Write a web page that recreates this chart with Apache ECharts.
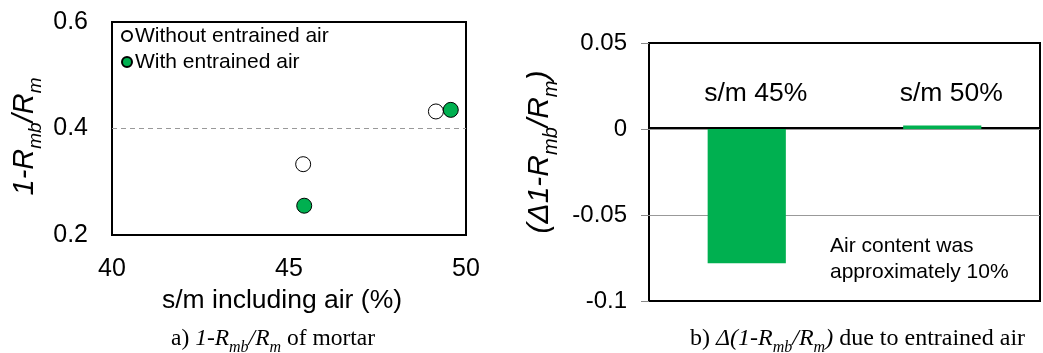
<!DOCTYPE html>
<html>
<head>
<meta charset="utf-8">
<script src="https://cdn.jsdelivr.net/npm/echarts@6/dist/echarts.min.js"></script>
<style>
  html, body { margin: 0; padding: 0; background: #fff; }
  #chart { width: 1043px; height: 353px; }
</style>
</head>
<body>
<div id="chart"></div>
<script>
// (a) 1-Rmb/Rm of mortar against s/m including air
const smWithout = [45.40, 49.15];
const ratioWithout = [0.333, 0.432];
const smWith = [45.43, 49.57];
const ratioWith = [0.255, 0.435];
const xTicksA = { min: 40, max: 50, step: 5 };
const yTicksA = { min: 0.2, max: 0.6, step: 0.2 };

// (b) change of 1-Rmb/Rm due to entrained air
const deltaCategories = ['s/m 45%', 's/m 50%'];
const deltaValues = [-0.078, 0.002];
const yTicksB = { min: -0.1, max: 0.05, step: 0.05 };

const sans = 'Liberation Sans, Arial, sans-serif';
const serif = 'Liberation Serif, Times New Roman, serif';
const green = '#00B050';

function pairs(xs, ys) { return xs.map((x, i) => [x, ys[i]]); }

// rich-text styles for italic names with subscripts
function richName(size, family) {
  const sub = Math.round(size * 0.66);
  const lh = Math.round(size * 1.4);
  return {
    n: { fontSize: size, fontFamily: family, color: '#000', lineHeight: lh, verticalAlign: 'middle' },
    i: { fontSize: size, fontFamily: family, fontStyle: 'italic', color: '#000', lineHeight: lh, verticalAlign: 'middle' },
    s: { fontSize: sub, fontFamily: family, fontStyle: 'italic', color: '#000', lineHeight: sub, verticalAlign: 'bottom' }
  };
}

const chart = echarts.init(document.getElementById('chart'), null, { renderer: 'canvas' });

chart.setOption({
  animation: false,
  backgroundColor: '#fff',
  grid: [
    { left: 112, top: 22, width: 354, height: 213, show: true, borderColor: '#000', borderWidth: 2, backgroundColor: 'transparent' },
    { left: 649, top: 43, width: 391, height: 258, show: true, borderColor: '#000', borderWidth: 2, backgroundColor: 'transparent' }
  ],
  legend: {
    data: ['Without entrained air', 'With entrained air'],
    orient: 'vertical',
    left: 121,
    top: 25,
    itemWidth: 10,
    itemHeight: 10,
    itemGap: 4,
    icon: 'circle',
    padding: 0,
    textStyle: { fontFamily: sans, fontSize: 21, color: '#000', lineHeight: 22, padding: [0, 0, 0, -2] }
  },
  xAxis: [
    {
      gridIndex: 0, type: 'value',
      min: xTicksA.min, max: xTicksA.max, interval: xTicksA.step,
      axisLine: { show: false }, axisTick: { show: false }, splitLine: { show: false },
      axisLabel: { margin: 22, fontFamily: sans, fontSize: 25, color: '#000' },
      name: 's/m including air (%)', nameLocation: 'middle', nameGap: 52,
      nameTextStyle: { fontFamily: sans, fontSize: 26.5, color: '#000', padding: [0, 14, 0, 0] }
    },
    {
      gridIndex: 1, type: 'category', data: deltaCategories,
      position: 'top', offset: -85,
      axisLine: { show: true, onZero: false, lineStyle: { color: '#000', width: 2 } },
      axisTick: { show: false },
      axisLabel: { margin: 21, fontFamily: sans, fontSize: 26.5, color: '#000', padding: [0, 0, 0, 18] },
      splitLine: { show: false }
    }
  ],
  yAxis: [
    {
      gridIndex: 0, type: 'value',
      min: yTicksA.min, max: yTicksA.max, interval: yTicksA.step,
      axisLine: { show: false }, axisTick: { show: false },
      splitLine: { show: true, showMinLine: false, showMaxLine: false, lineStyle: { color: '#999', type: [5, 4], width: 1 } },
      axisLabel: { margin: 24, fontFamily: sans, fontSize: 25, color: '#000', formatter: v => v.toFixed(1) },
      name: '{i|1-R}{s|mb}{i|/R}{s|m}', nameLocation: 'middle', nameRotate: 90, nameGap: 67,
      nameTextStyle: { rich: richName(29, sans), padding: [0, 16, 0, 0] }
    },
    {
      gridIndex: 1, type: 'value',
      min: yTicksB.min, max: yTicksB.max, interval: yTicksB.step,
      axisLine: { show: false },
      axisTick: { show: true, length: 8, lineStyle: { color: '#888', width: 1 } },
      splitLine: { show: true, showMinLine: false, showMaxLine: false, lineStyle: { color: '#999', width: 1 } },
      axisLabel: { margin: 22, fontFamily: sans, fontSize: 24, color: '#000',
        formatter: v => (Math.abs(v) < 1e-9 ? '0' : String(+v.toFixed(2))) },
      name: '{i|(Δ1-R}{s|mb}{i|/R}{s|m}{i|)}', nameLocation: 'middle', nameRotate: 90, nameGap: 88,
      nameTextStyle: { rich: richName(30, sans), padding: [0, 0, 0, 40] }
    }
  ],
  series: [
    {
      name: 'Without entrained air', type: 'scatter', xAxisIndex: 0, yAxisIndex: 0,
      data: pairs(smWithout, ratioWithout), symbolSize: 15,
      itemStyle: { color: '#fff', borderColor: '#000', borderWidth: 1, opacity: 1 }, z: 3
    },
    {
      name: 'With entrained air', type: 'scatter', xAxisIndex: 0, yAxisIndex: 0,
      data: pairs(smWith, ratioWith), symbolSize: 15,
      itemStyle: { color: green, borderColor: '#000', borderWidth: 1, opacity: 1 }, z: 4
    },
    {
      name: 'delta', type: 'bar', xAxisIndex: 1, yAxisIndex: 1,
      data: deltaValues, barWidth: '40%',
      itemStyle: { color: green }, z: 2
    }
  ],
  graphic: [
    {
      type: 'text', left: 830, top: 233,
      style: { text: 'Air content was\napproximately 10%', fontFamily: sans, fontSize: 21, lineHeight: 26, fill: '#000' }
    },
    {
      type: 'text', left: 171, top: 327,
      style: { text: '{n|a) }{i|1-R}{s|mb}{i|/R}{s|m}{n| of mortar}', rich: richName(23.5, serif) }
    },
    {
      type: 'text', left: 690, top: 327,
      style: { text: '{n|b) }{i|Δ(1-R}{s|mb}{i|/R}{s|m}{i|)}{n| due to entrained air}', rich: richName(24, serif) }
    }
  ]
});
</script>
</body>
</html>
